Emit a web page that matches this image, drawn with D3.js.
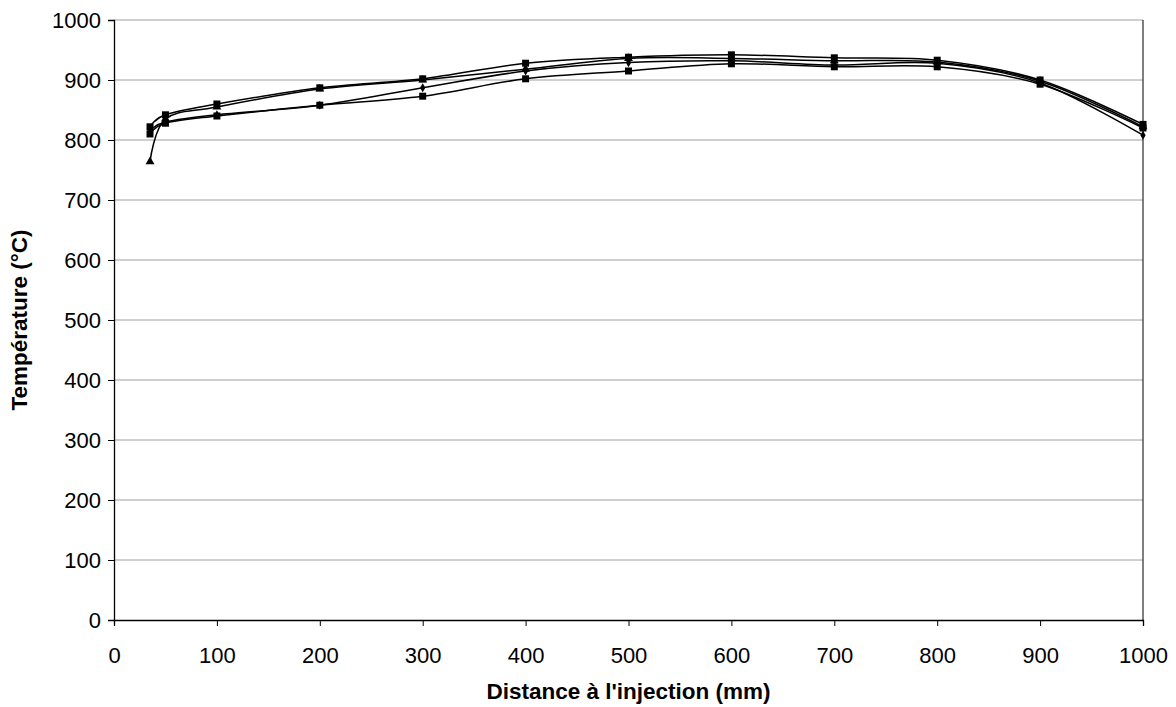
<!DOCTYPE html>
<html><head><meta charset="utf-8">
<script src="https://cdn.jsdelivr.net/npm/d3@7"></script>
<style>body{margin:0;background:#fff}svg{display:block}text{font-family:"Liberation Sans",Arial,sans-serif}</style>
</head><body><svg id="c" width="1176" height="707"></svg>
<script>
const distances = [35, 50, 100, 200, 300, 400, 500, 600, 700, 800, 900, 1000];
const seriesSquareTop = [822, 842, 860, 887, 902, 928, 938, 942, 937, 933, 900, 826];
const seriesTriangle  = [764, 835, 855, 885, 900, 918, 936, 936, 932, 930, 898, 822];
const seriesDiamond   = [815, 830, 842, 858, 887, 915, 929, 932, 925, 928, 895, 808];
const seriesSquareLow = [810, 828, 840, 858, 873, 902, 915, 927, 922, 922, 893, 820];
const xTicks = [0,100,200,300,400,500,600,700,800,900,1000];
const yTicks = [0,100,200,300,400,500,600,700,800,900,1000];

const series = [
  {vals: seriesSquareLow, shape: "square"},
  {vals: seriesDiamond, shape: "diamond"},
  {vals: seriesTriangle, shape: "triangle"},
  {vals: seriesSquareTop, shape: "square"}
];

const svg = d3.select("#c");
const L = 114, R = 1143, T = 20, B = 620;
const x = d3.scaleLinear().domain([0,1000]).range([L,R]);
const y = d3.scaleLinear().domain([0,1000]).range([B,T]);

// gridlines
svg.append("g").selectAll("line").data(yTicks.filter(d=>d>0)).join("line")
  .attr("x1",L).attr("x2",R).attr("y1",d=>y(d)).attr("y2",d=>y(d))
  .attr("stroke","#a0a0a0").attr("stroke-width",1);
// right border
svg.append("line").attr("x1",R).attr("x2",R).attr("y1",T).attr("y2",B)
  .attr("stroke","#000").attr("stroke-width",1);

const yAxis = d3.axisLeft(y).tickValues(yTicks).tickSize(6).tickPadding(7).tickFormat(d3.format("d"));
const gy = svg.append("g").attr("transform",`translate(${L},0)`).call(yAxis);
const xAxis = d3.axisBottom(x).tickValues(xTicks).tickSize(6).tickPadding(21).tickFormat(d3.format("d"));
const gx = svg.append("g").attr("transform",`translate(0,${B})`).call(xAxis);
[gy,gx].forEach(g=>{
  g.select(".domain").attr("stroke","#000").attr("stroke-width",1.3);
  g.selectAll(".tick line").attr("stroke","#000");
  g.selectAll("text").attr("font-size",22).attr("fill","#000").attr("font-family","Liberation Sans, Arial, sans-serif");
});

const line = d3.line().x((d,i)=>x(distances[i])).y(d=>y(d)).curve(d3.curveCatmullRom.alpha(0));
series.forEach(s=>{
  svg.append("path").attr("d",line(s.vals)).attr("fill","none").attr("stroke","#000").attr("stroke-width",1.5);
});
const sym = {square: d3.symbolSquare, diamond: d3.symbolDiamond, triangle: d3.symbolTriangle};
const size = {square: 49, diamond: 24, triangle: 34};
series.forEach(s=>{
  svg.append("g").selectAll("path").data(s.vals).join("path")
    .attr("transform",(d,i)=>`translate(${x(distances[i])},${y(d)})`)
    .attr("d",d3.symbol().type(sym[s.shape]).size(size[s.shape]))
    .attr("fill","#000");
});

svg.append("text").attr("x",(L+R)/2).attr("y",699).attr("text-anchor","middle")
  .attr("font-size",22.5).attr("font-weight","bold").text("Distance à l'injection (mm)");
svg.append("text").attr("transform",`translate(27,${(T+B)/2}) rotate(-90)`).attr("text-anchor","middle")
  .attr("font-size",22.5).attr("font-weight","bold").text("Température (°C)");
</script></body></html>
